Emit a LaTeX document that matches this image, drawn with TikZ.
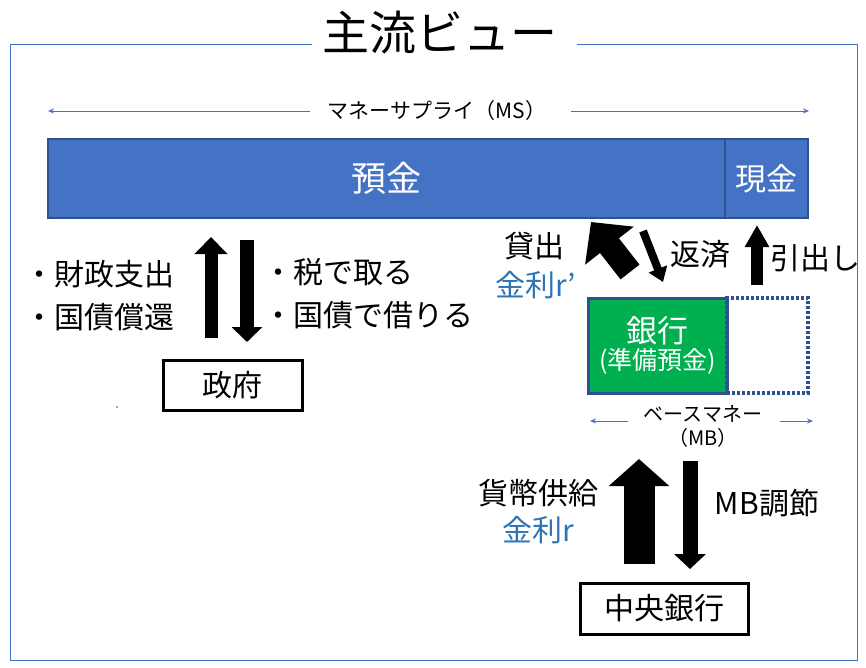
\documentclass[tikz,border=0pt]{standalone}
\usepackage{fontspec}
\setmainfont{Noto Sans CJK JP}
\usetikzlibrary{arrows.meta,positioning}
\definecolor{msblue}{RGB}{68,114,196}
\definecolor{navy}{RGB}{47,82,143}
\definecolor{bankgreen}{RGB}{0,176,80}
\definecolor{ratecol}{RGB}{46,117,182}
\tikzset{
 txt/.style={inner sep=0pt,align=left,font=\fontsize{30}{43}\selectfont},
 smalltxt/.style={inner sep=0pt,align=center,font=\fontsize{20}{24}\selectfont},
 box/.style={draw,line width=3pt,minimum width=139pt,minimum height=50pt,
             inner sep=0pt,font=\fontsize{30}{36}\selectfont},
 bar/.style={draw=navy,line width=1.5pt,fill=msblue,text=white,inner sep=0pt,
             minimum height=79pt},
 span/.style={msblue,line width=1pt,-{Stealth[length=6pt,width=5pt]}},
 blk/.style n args={3}{line width=#1,-{Triangle[length=#2,width=#3]}}
}
\begin{document}
\begin{tikzpicture}[x=1pt,y=-1pt]
\useasboundingbox[fill=white] (0,0) rectangle (866,667);
% frame with title
\node[inner sep=0pt,font=\fontsize{47}{50}\selectfont] (title) at (440,33) {主流ビュー};
\draw[msblue,line width=1pt] (312,44) -- (10,44) -- (10,660) -- (857,660) -- (857,44) -- (577,44);

% money supply
\node[smalltxt,font=\fontsize{21}{24}\selectfont] (ms) at (437,111) {マネーサプライ（MS）};
\coordinate (msL) at (48,111);
\coordinate (msR) at (809,111);
\draw[span] ([xshift=-18pt]ms.west) -- (msL);
\draw[span] ([xshift=25pt]ms.east) -- (msR);
\node[bar,minimum width=677pt,font=\fontsize{35}{38}\selectfont] (dep) at (386.5,178.5) {預金};
\node[bar,minimum width=83pt,font=\fontsize{31}{34}\selectfont] (cash) at (766.5,178.5) {現金};

% government
\node[box] (gov) at (232.5,385) {政府};
\coordinate (gu1) at (211,338);
\coordinate (gu2) at (211,237);
\coordinate (gd1) at (247,240);
\coordinate (gd2) at (247,342);
\draw[blk={13pt}{17pt}{32pt}] (gu1) -- (gu2);
\draw[blk={14pt}{15pt}{30pt}] (gd1) -- (gd2);
\node[txt,anchor=west] (spend) at (24,296) {・財政支出\\・国債償還};
\node[txt,anchor=west] (tax) at (263,294) {・税で取る\\・国債で借りる};
\fill[red] (117,407) circle (0.8pt);

% bank
\node[draw=navy,line width=3pt,fill=bankgreen,text=white,align=center,
      minimum width=139pt,minimum height=95pt,inner sep=0pt] (bank) at (657.5,345.5)
      {{\fontsize{31}{38}\selectfont 銀行}\\[2pt]{\fontsize{25}{28}\selectfont (準備預金)}};
\node[draw=navy,line width=3.5pt,dash pattern=on 3pt off 2pt,
      minimum width=81pt,minimum height=95pt] (resv) at (767.5,345.5) {};
\coordinate (ln1) at (630,272);
\coordinate (ln2) at (591,222);
\coordinate (rp1) at (643,231);
\coordinate (rp2) at (663,282);
\coordinate (wd1) at (757,285);
\coordinate (wd2) at (757,225);
\draw[blk={24pt}{30pt}{60pt}] (ln1) -- (ln2);
\draw[blk={8pt}{14pt}{19pt}] (rp1) -- (rp2);
\draw[blk={12pt}{22pt}{23pt}] (wd1) -- (wd2);
\node[txt] (loan) at (534,246) {貸出};
\node[txt,text=ratecol] (rate1) at (536,285) {金利r’};
\node[txt] (repay) at (700,254) {返済};
\node[txt,anchor=west] (draw) at (770,258) {引出し};

% base money
\node[smalltxt] (mb) at (703,426) {ベースマネー\\（MB）};
\coordinate (mbL) at (590,421);
\coordinate (mbR) at (813,421);
\draw[span] (628,421) -- (mbL);
\draw[span] (780,421) -- (mbR);

% central bank
\node[box,minimum width=168pt,minimum height=51pt] (cb) at (664,608.5) {中央銀行};
\coordinate (cu1) at (639,564);
\coordinate (cu2) at (639,459);
\coordinate (cd1) at (690,461);
\coordinate (cd2) at (690,569);
\draw[blk={31pt}{27pt}{59pt}] (cu1) -- (cu2);
\draw[blk={15pt}{15pt}{31pt}] (cd1) -- (cd2);
\node[txt] (supply) at (538,493) {貨幣供給};
\node[txt,text=ratecol] (rate2) at (538,530) {金利r};
\node[txt] (adjust) at (767,503) {MB調節};
\end{tikzpicture}
\end{document}
